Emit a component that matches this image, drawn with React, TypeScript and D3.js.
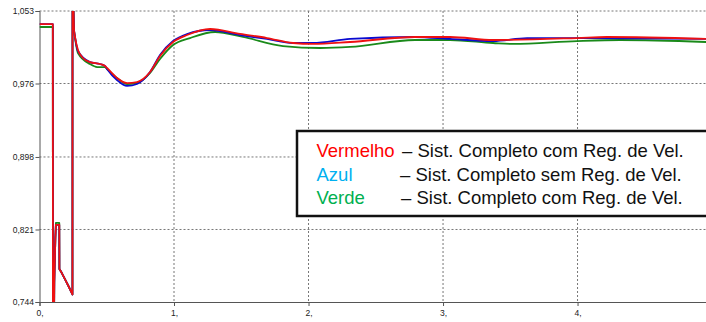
import React, { useEffect, useRef } from 'react';
import * as d3 from 'd3';

// time (s) / voltage (pu)
const yTicks = [0.744, 0.821, 0.898, 0.976, 1.053];
const xTicks = [0, 1, 2, 3, 4];

// fault / reclose part (same for red and blue)
const faultRed: [number, number][] = [
  [0, 1.039], [0.099, 1.039], [0.1, 0.7], [0.107, 0.7], [0.11, 0.765], [0.112, 0.778],
  [0.115, 0.795], [0.118, 0.812], [0.122, 0.826], [0.147, 0.826], [0.148, 0.779],
  [0.165, 0.775], [0.19, 0.768], [0.215, 0.761], [0.245, 0.752], [0.2455, 1.1], [0.2565, 1.0328],
];
const faultGreen: [number, number][] = [
  [0, 1.036], [0.099, 1.036], [0.1, 0.7], [0.107, 0.7], [0.11, 0.765], [0.112, 0.778],
  [0.115, 0.795], [0.118, 0.812], [0.122, 0.828], [0.147, 0.828], [0.148, 0.779],
  [0.165, 0.775], [0.19, 0.768], [0.215, 0.761], [0.245, 0.752], [0.2455, 1.1], [0.2565, 1.0318],
];

const postRed: [number, number][] = [
  [0.2565, 1.0328], [0.264, 1.0254], [0.286, 1.0116], [0.323, 1.0031], [0.375, 0.9988],
  [0.45, 0.9967], [0.487, 0.9946], [0.502, 0.9925], [0.576, 0.9819], [0.651, 0.9765],
  [0.725, 0.9776], [0.822, 0.9882], [0.896, 1.0052], [0.993, 1.0201], [1.097, 1.0275],
  [1.268, 1.0339], [1.491, 1.0286], [1.691, 1.0243], [1.885, 1.019], [2.033, 1.018],
  [2.309, 1.0201], [2.792, 1.0254], [3.052, 1.0254], [3.372, 1.0222], [3.996, 1.0243],
  [4.219, 1.0254], [4.955, 1.0233],
];
const postBlue: [number, number][] = [
  [0.2565, 1.0328], [0.286, 1.0105], [0.375, 0.9988], [0.45, 0.9967], [0.487, 0.9946],
  [0.502, 0.9914], [0.576, 0.9797], [0.651, 0.9734], [0.725, 0.9755], [0.822, 0.9882],
  [0.896, 1.0063], [0.993, 1.0212], [1.097, 1.0286], [1.268, 1.0328], [1.491, 1.0275],
  [1.691, 1.0233], [1.885, 1.019], [2.033, 1.019], [2.309, 1.0233], [2.792, 1.0254],
  [3.052, 1.0233], [3.372, 1.0211], [3.625, 1.0243], [3.996, 1.0243], [4.955, 1.0233],
];
const postGreen: [number, number][] = [
  [0.2565, 1.0318], [0.286, 1.0084], [0.375, 0.9967], [0.428, 0.9935], [0.487, 0.9935],
  [0.502, 0.9914], [0.576, 0.9819], [0.651, 0.9755], [0.725, 0.9765], [0.822, 0.9872],
  [0.896, 1.002], [0.993, 1.0169], [1.119, 1.0243], [1.305, 1.0307], [1.513, 1.0254],
  [1.81, 1.0158], [2.086, 1.0137], [2.309, 1.0148], [2.792, 1.0222], [3.052, 1.0222],
  [3.372, 1.019], [3.52, 1.018], [3.996, 1.0211], [4.316, 1.0222], [4.955, 1.0201],
];

const legendNames = ['Vermelho', 'Azul', 'Verde'];
const legendTexts = [
  '– Sist. Completo com Reg. de Vel.',
  '– Sist. Completo sem Reg. de Vel.',
  '– Sist. Completo com Reg. de Vel.',
];

function App() {
  const ref = useRef<SVGSVGElement>(null);

  useEffect(() => {
    const svg = d3.select(ref.current);
    svg.selectAll('*').remove();

    const left = 39.5, right = 706, top = 11, bottom = 302;
    const x = d3.scaleLinear().domain([0, 4.955]).range([left, right]);
    const y = d3.scaleLinear().domain([0.744, 1.053]).range([bottom, top]);

    svg.append('defs').append('clipPath').attr('id', 'plotclip')
      .append('rect').attr('x', left).attr('y', top).attr('width', right - left).attr('height', bottom - top);

    // grid
    svg.append('g').selectAll('line').data(yTicks.slice(1)).enter().append('line')
      .attr('x1', left).attr('x2', right).attr('y1', (d) => y(d)).attr('y2', (d) => y(d))
      .attr('stroke', '#777').attr('stroke-dasharray', '2,2');
    svg.append('g').selectAll('line').data(xTicks.slice(1)).enter().append('line')
      .attr('x1', (d) => x(d)).attr('x2', (d) => x(d)).attr('y1', top).attr('y2', bottom)
      .attr('stroke', '#777').attr('stroke-dasharray', '2,2');

    // axes
    const yAxis = svg.append('g').attr('transform', `translate(${left},0)`)
      .call(d3.axisLeft(y).tickValues(yTicks).tickSize(4).tickFormat((d) => d3.format('.3f')(d as number).replace('.', ',')));
    const xAxis = svg.append('g').attr('transform', `translate(0,${bottom})`)
      .call(d3.axisBottom(x).tickValues(xTicks).tickSize(4).tickFormat((d) => `${d},`));
    [yAxis, xAxis].forEach((a) => {
      a.select('.domain').attr('stroke', '#555');
      a.selectAll('.tick line').attr('stroke', '#555');
      a.selectAll('text').attr('font-family', 'Liberation Sans, Arial, sans-serif')
        .attr('font-size', 8.5).attr('fill', '#222');
    });
    yAxis.selectAll('text').attr('x', -5.5);
    xAxis.selectAll('text').attr('dy', '0.71em').attr('y', 7.5);

    const plot = svg.append('g').attr('clip-path', 'url(#plotclip)');
    const lin = d3.line<[number, number]>().x((d) => x(d[0])).y((d) => y(d[1]));
    const smooth = d3.line<[number, number]>().x((d) => x(d[0])).y((d) => y(d[1])).curve(d3.curveMonotoneX);

    const series = [
      { fault: faultGreen, post: postGreen, color: '#1a8a1a' },
      { fault: faultRed, post: postBlue, color: '#0a0ad0' },
      { fault: faultRed, post: postRed, color: '#ee1111' },
    ];
    series.forEach((s) => {
      plot.append('path').attr('d', lin(s.fault)).attr('fill', 'none')
        .attr('stroke', s.color).attr('stroke-width', 1.8).attr('stroke-linejoin', 'round');
      plot.append('path').attr('d', smooth(s.post)).attr('fill', 'none')
        .attr('stroke', s.color).attr('stroke-width', 1.8);
    });

    // legend box
    const lg = svg.append('g');
    lg.append('rect').attr('x', 297).attr('y', 131).attr('width', 430).attr('height', 85)
      .attr('fill', 'white').attr('stroke', '#111').attr('stroke-width', 2.5);
    const nameColors = ['#ff0000', '#00b0f0', '#00b050'];
    const rows = [157, 180.5, 204];
    const dashX = [402, 400, 401];
    legendNames.forEach((n, i) => {
      lg.append('text').attr('x', 316.5).attr('y', rows[i]).text(n)
        .attr('fill', nameColors[i]).attr('font-family', 'Liberation Sans, Arial, sans-serif').attr('font-size', 18.5);
      lg.append('text').attr('x', dashX[i]).attr('y', rows[i]).text(legendTexts[i])
        .attr('fill', '#111').attr('font-family', 'Liberation Sans, Arial, sans-serif').attr('font-size', 18.5);
    });
  }, []);

  return (
    <svg ref={ref} width={706} height={322}
      style={{ position: 'absolute', left: 0, top: 0, background: 'white' }} />
  );
}

export default App;
